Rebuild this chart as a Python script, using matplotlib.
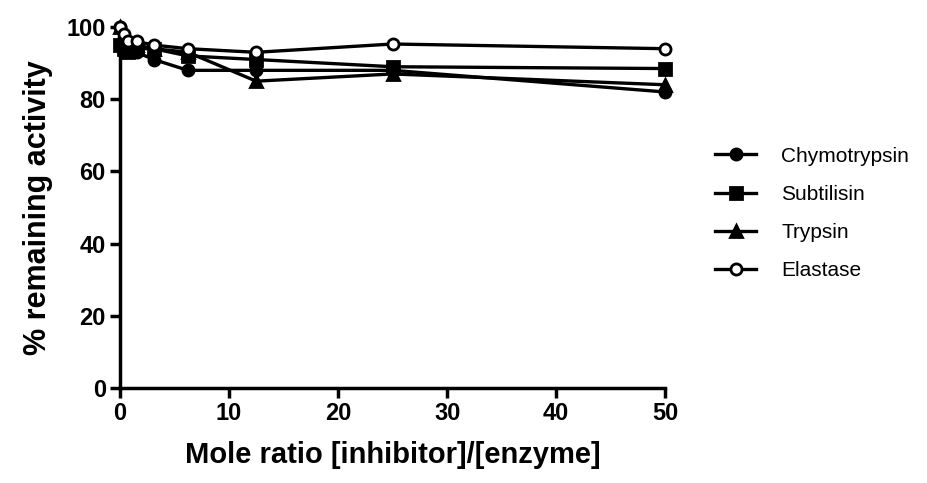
import matplotlib
matplotlib.use("Agg")
import matplotlib.pyplot as plt

plt.rcParams["font.family"] = ["Liberation Sans", "DejaVu Sans"]

# Data
ratio = [0, 0.39, 0.78, 1.56, 3.125, 6.25, 12.5, 25, 50]
chymotrypsin = [100, 97, 95, 93, 91, 88, 88, 88, 82]
subtilisin = [95, 94, 93, 94, 94, 92, 91, 89, 88.5]
trypsin = [100, 97, 96, 95, 94, 93, 85, 87, 84]
elastase = [100, 98, 96, 96, 95, 94, 93, 95.3, 94]

series = [
    ("Chymotrypsin", chymotrypsin, "o", "black"),
    ("Subtilisin", subtilisin, "s", "black"),
    ("Trypsin", trypsin, "^", "black"),
    ("Elastase", elastase, "o", "white"),
]

fig = plt.figure(figsize=(9.28, 4.83), dpi=100)
ax = fig.add_axes([0.129, 0.197, 0.588, 0.747])

for name, vals, mk, fc in series:
    ax.plot(ratio, vals, color="black", lw=2.4, marker=mk, ms=8,
            markerfacecolor=fc, markeredgecolor="black", markeredgewidth=2,
            label=name, clip_on=False, zorder=3)

ax.set_xlim(0, 50)
ax.set_ylim(0, 100)
ax.set_xticks([0, 10, 20, 30, 40, 50])
ax.set_yticks([0, 20, 40, 60, 80, 100])

for s in ["top", "right"]:
    ax.spines[s].set_visible(False)
for s in ["left", "bottom"]:
    ax.spines[s].set_linewidth(2.5)

ax.tick_params(width=2.5, length=7, labelsize=17, pad=3)
for lab in ax.get_xticklabels() + ax.get_yticklabels():
    lab.set_fontweight("bold")

ax.set_xlabel("Mole ratio [inhibitor]/[enzyme]", fontsize=21, fontweight="bold", labelpad=12)
ax.set_ylabel("% remaining activity", fontsize=22, fontweight="bold", labelpad=10)

leg = fig.legend(loc="upper left", bbox_to_anchor=(0.75, 0.735), frameon=False,
                 fontsize=15, handlelength=2.0, labelspacing=0.92, handletextpad=1.2)

fig.savefig("out.png", dpi=100)
